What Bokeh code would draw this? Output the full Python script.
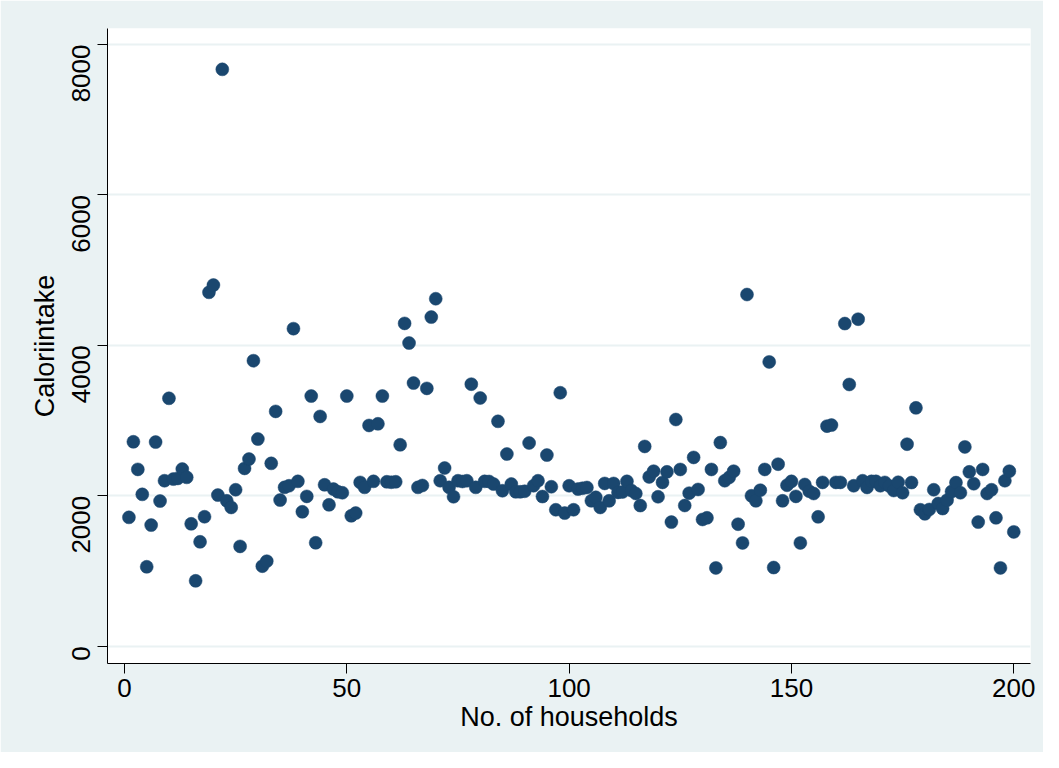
from bokeh.plotting import figure
from bokeh.models import Range1d, FixedTicker, ColumnDataSource
from bokeh.embed import file_html
from bokeh.resources import INLINE
import math

households = list(range(1, 201))
calorie_intake = [
    1713, 2718, 2351, 2019, 1056, 1610, 2714, 1930, 2200, 3296,
    2222, 2231, 2355, 2245, 1627, 869, 1388, 1721, 4705, 4802,
    2009, 7670, 1933, 1845, 2080, 1327, 2364, 2488, 3796, 2754,
    1064, 1130, 2431, 3122, 1943, 2112, 2133, 4222, 2192, 1787,
    1992, 3326, 1375, 3055, 2146, 1880, 2089, 2053, 2040, 3326,
    1734, 1770, 2178, 2112, 2935, 2192, 2957, 3326, 2186, 2180,
    2186, 2678, 4292, 4031, 3499, 2112, 2137, 3428, 4376, 4620,
    2200, 2369, 2112, 1987, 2200, 2190, 2200, 3484, 2112, 3300,
    2192, 2190, 2156, 2990, 2067, 2555, 2156, 2053, 2053, 2060,
    2702, 2133, 2200, 1990, 2541, 2120, 1814, 3370, 1770, 2133,
    1814, 2089, 2100, 2110, 1933, 1980, 1845, 2164, 1933, 2164,
    2045, 2050, 2192, 2070, 2030, 1870, 2656, 2251, 2327, 1987,
    2178, 2318, 1650, 3014, 2350, 1871, 2035, 2510, 2084, 1685,
    1707, 2350, 1041, 2707, 2200, 2245, 2327, 1622, 1373, 4676,
    2000, 1933, 2074, 2350, 3780, 1046, 2420, 1933, 2140, 2192,
    1992, 1373, 2150, 2060, 2030, 1720, 2178, 2926, 2940, 2178,
    2178, 4290, 3480, 2133, 4348, 2200, 2111, 2192, 2192, 2133,
    2178, 2130, 2070, 2180, 2040, 2686, 2176, 3169, 1814, 1760,
    1818, 2080, 1897, 1830, 1941, 2056, 2175, 2040, 2650, 2318,
    2160, 1650, 2350, 2030, 2080, 1707, 1041, 2200, 2327, 1520,
]
x_ticks = [0, 50, 100, 150, 200]
y_ticks = [0, 2000, 4000, 6000, 8000]
x_title = "No. of households"
y_title = "Caloriintake"

source = ColumnDataSource(data=dict(x=households, y=calorie_intake))

p = figure(
    width=1043, height=752,
    output_backend="svg", toolbar_location=None,
    x_range=Range1d(-3.82, 203.76), y_range=Range1d(-230, 8213),
    min_border_left=107, min_border_right=13, min_border_top=28, min_border_bottom=89,
)
p.border_fill_color = "#EAF2F3"
p.background_fill_color = "white"
p.outline_line_color = None

p.scatter("x", "y", source=source, size=13, marker="circle",
          fill_color="#1A476F", line_color="#1A476F", line_width=0.5)

p.xgrid.visible = False
p.ygrid.grid_line_color = "#EAF2F3"
p.ygrid.grid_line_width = 2
p.ygrid.ticker = FixedTicker(ticks=y_ticks)

font = "Liberation Sans"
for ax in (p.xaxis[0], p.yaxis[0]):
    ax.axis_line_color = "black"
    ax.axis_line_width = 1
    ax.major_tick_line_color = "black"
    ax.major_tick_out = 10
    ax.major_tick_in = 0
    ax.minor_tick_line_color = None
    ax.major_label_text_font = font
    ax.major_label_text_font_size = "26px"
    ax.major_label_text_color = "black"
    ax.axis_label_text_font = font
    ax.axis_label_text_font_size = "27px"
    ax.axis_label_text_font_style = "normal"
    ax.axis_label_text_color = "black"

p.xaxis[0].ticker = FixedTicker(ticks=x_ticks)
p.yaxis[0].ticker = FixedTicker(ticks=y_ticks)
p.xaxis[0].axis_label = x_title
p.yaxis[0].axis_label = y_title
p.yaxis[0].major_label_orientation = math.pi / 2
p.xaxis[0].major_label_standoff = 5
p.yaxis[0].major_label_standoff = 16
p.xaxis[0].axis_label_standoff = 2
p.yaxis[0].axis_label_standoff = 1

open("out.html", "w").write(file_html(p, INLINE))
